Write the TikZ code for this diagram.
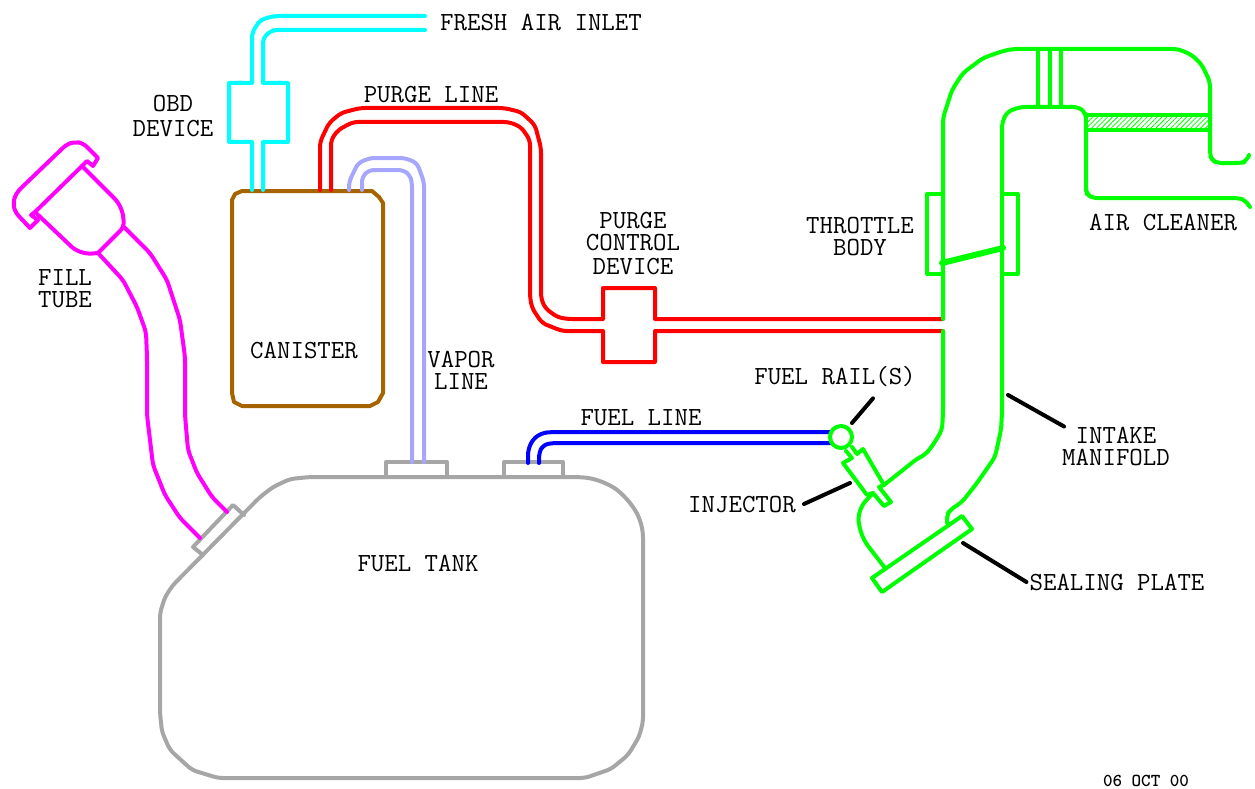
\documentclass[tikz,border=0pt]{standalone}
\usepackage{tikz}
\usetikzlibrary{calc,patterns.meta}

\definecolor{airgreen}{RGB}{0,255,0}
\definecolor{tankgray}{RGB}{166,166,166}
\definecolor{canbrown}{RGB}{165,100,0}
\definecolor{vaporblue}{RGB}{166,166,255}
\definecolor{aircyan}{RGB}{0,255,255}
\definecolor{fillpink}{RGB}{255,0,255}
\tikzset{
    pipe/.style={line width=4pt, line join=round, line cap=round},
    bentpipe/.style={pipe, rounded corners=5pt},
    leader/.style={line width=4pt, line cap=round, black},
    lbl/.style={inner sep=3pt, align=center, font=\fontsize{26.1}{22}\selectfont\ttfamily},
    datelbl/.style={inner sep=3pt, font=\fontsize{18.2}{20}\selectfont\ttfamily\bfseries}
}

\begin{document}
\begin{tikzpicture}[x=1pt,y=-1pt]
    \useasboundingbox (0,0) rectangle (1255,789);
    % fuel tank
    \draw[bentpipe, tankgray] (310,477) -- (577,477) -- (590,478) -- (603,482) -- (615,488) -- (623,495) -- (631,504) -- (637,513)
        -- (641,523) -- (643,533) -- (643,722) -- (639,737) -- (628,755) -- (611,769) -- (585,778) -- (218,778) -- (192,770)
        -- (170,750) -- (162,732) -- (160,713) -- (160,613) -- (165,597) -- (173,585) -- (260,497) -- (273,487) -- (290,479) -- cycle;
    \draw[pipe, tankgray] (386,477) -- (386,462) -- (447,462) -- (447,477);
    \draw[pipe, tankgray] (504,477) -- (504,462) -- (563,462) -- (563,477);
    \draw[pipe, tankgray] (203,555) -- (193,547) -- (233,505) -- (244,515);
    % fill tube
    \draw[pipe, fillpink] (82,166) -- (87,161) -- (93,166) -- (98,158) [rounded corners=5pt] -- (83,143) -- (75,142) -- (67,144) -- (17,192)
        -- (13,202) -- (15,212) [sharp corners] -- (30,228) -- (38,220) -- (31,215) -- (35,212) -- cycle;
    \draw[bentpipe, fillpink] (82,166) -- (118,202) -- (123,213) -- (124,227) [sharp corners] -- (98,253) [rounded corners=5pt] -- (87,254) -- (75,250) -- (35,212);
    \draw[bentpipe, fillpink] (124,227) -- (150,253) -- (167,280) -- (180,320) -- (185,357) -- (185,415) -- (188,450)
        -- (197,473) -- (212,497) -- (227,512);
    \draw[bentpipe, fillpink] (98,253) -- (123,280) -- (137,307) -- (146,332) -- (147,357) -- (147,415) -- (153,465)
        -- (165,495) -- (180,518) -- (200,538);
    % canister
    \draw[pipe, canbrown] (232,200) -- (235,194) -- (242,191) -- (372,191) -- (379,197) -- (383,203) -- (383,393)
        -- (378,402) -- (370,406) -- (242,406) -- (234,402) -- (232,393) -- cycle;
    % fresh air
    \draw[bentpipe, aircyan] (425,16) -- (274,16) -- (260,20) -- (252,33) [sharp corners] -- (252,83) -- (229,83) -- (229,142) -- (252,142) -- (252,190);
    \draw[bentpipe, aircyan] (425,30) -- (272,30) -- (263,38) [sharp corners] -- (263,83) -- (288,83) -- (288,142) -- (263,142) -- (263,190);
    % vapor line
    \draw[bentpipe, vaporblue] (349,190) -- (349,182) -- (358,163) -- (370,158) -- (405,158) -- (417,163) -- (424,182) -- (424,462);
    \draw[bentpipe, vaporblue] (362,190) -- (362,177) -- (369,170) -- (403,170) -- (410,175) -- (412,183) -- (412,462);
    % purge line
    \draw[bentpipe, red] (320,190) -- (320,142) -- (329,123) -- (341,113) -- (360,108) -- (504,108) -- (521,112) -- (535,125)
        -- (541,148) -- (541,298) -- (545,308) -- (557,317) -- (567,319) [sharp corners] -- (603,319) -- (603,288) -- (655,288)
        -- (655,319) -- (943,319);
    \draw[bentpipe, red] (331,190) -- (331,140) -- (338,130) -- (353,122) -- (509,122) -- (521,127) -- (530,140) -- (530,297)
        -- (532,308) -- (542,323) -- (562,331) [sharp corners] -- (603,331) -- (603,362) -- (655,362) -- (655,331) -- (943,331);
    % fuel line
    \draw[bentpipe, blue] (528,463) -- (528,450) -- (533,439) -- (542,433) -- (552,432) -- (830,432);
    \draw[bentpipe, blue] (539,463) -- (539,453) -- (543,445) -- (552,443) -- (830,443);
    % intake and air cleaner
    \draw[bentpipe, airgreen] (943,319) -- (943,118) -- (952,90) -- (963,73) -- (983,58) -- (1003,51) -- (1013,49) -- (1178,49)
        -- (1192,55) -- (1202,65) -- (1210,82) -- (1210,155) -- (1212,160) -- (1217,163) -- (1240,163) -- (1246,162) -- (1249,155);
    \draw[bentpipe, airgreen] (1002,413) -- (1002,123) -- (1007,112) -- (1020,107) -- (1078,107) -- (1085,112) -- (1086,118)
        -- (1086,190) -- (1087,194) -- (1092,198) -- (1238,198) -- (1245,200) -- (1250,207);
    \draw[pipe, airgreen] (1038,49) -- (1038,107);
    \draw[pipe, airgreen] (1050,49) -- (1050,107);
    \draw[pipe, airgreen] (1061,49) -- (1061,107);
    \fill[pattern={Lines[angle=45,distance=3.5pt,line width=0.8pt]}, pattern color=airgreen] (1086,115) rectangle (1210,130);
    \draw[pipe, airgreen] (1086,115) -- (1210,115);
    \draw[pipe, airgreen] (1086,130) -- (1210,130);
    \draw[pipe, airgreen] (943,194) -- (927,194) -- (927,274) -- (943,274);
    \draw[pipe, airgreen] (1002,194) -- (1018,194) -- (1018,274) -- (1002,274);
    \draw[pipe, airgreen, line width=6pt] (942,263) -- (1003,248);
    \draw[bentpipe, airgreen] (943,331) -- (943,413) -- (942,430) -- (933,445) -- (925,455) -- (918,458) [sharp corners] -- (884,485) -- (879,487)
        -- (891,502) -- (884,506) -- (873,493) [rounded corners=5pt] -- (862,505) -- (858,517) -- (860,530) -- (865,542) -- (885,568);
    \draw[bentpipe, airgreen] (1002,413) -- (1001,430) -- (995,457) -- (977,483) -- (962,502) -- (950,510) -- (947,515) -- (947,523);
    \draw[pipe, airgreen] (872,578) -- (962,516) -- (972,529) -- (882,592) -- cycle;
    % injector and rail
    \draw[pipe, airgreen] (884,485) -- (863,449) -- (857,454) -- (852,447);
    \draw[pipe, airgreen] (846,451) -- (852,458) -- (843,463) -- (867,495) -- (873,493);
    \draw[pipe, airgreen] (841,437) circle (11);
    % labels
    \node[lbl] (freshair) at (541,23) {FRESH AIR INLET};
    \node[lbl] (obd) at (173,116) {OBD\\[3pt]DEVICE};
    \node[lbl] (purgeline) at (431,95) {PURGE LINE};
    \node[lbl] (purgectl) at (633,244) {PURGE\\CONTROL\\[2pt]DEVICE};
    \node[lbl] (filltube) at (65,289) {FILL\\TUBE};
    \node[lbl] (canister) at (304,350) {CANISTER};
    \node[lbl] (vaporline) at (461,370) {VAPOR\\LINE};
    \node[lbl] (throttle) at (860,237) {THROTTLE\\BODY};
    \node[lbl] (aircleaner) at (1163,222) {AIR CLEANER};
    \node[lbl] (fuelline) at (641,418) {FUEL LINE};
    \node[lbl] (fuelrail) at (835,377) {FUEL RAIL(S)};
    \node[lbl] (intake) at (1116,446) {INTAKE\\MANIFOLD};
    \node[lbl] (injector) at (742,505) {INJECTOR};
    \node[lbl] (sealing) at (1117,582) {SEALING PLATE};
    \node[lbl] (fueltank) at (418,563) {FUEL TANK};
    \node[datelbl] (datestamp) at (1146,781) {06 OCT 00};
    % leaders
    \coordinate (railend) at (852,423); \coordinate (injend) at (850,483);
    \coordinate (intakeend) at (1008,395); \coordinate (sealend) at (963,543);
    \draw[leader] ($(fuelrail.south)+(38,8)$) -- (railend);
    \draw[leader] ($(injector.east)+(5,-1)$) -- (injend);
    \draw[leader] ($(intake.north west)+(5,3)$) -- (intakeend);
    \draw[leader] (sealing.west) -- (sealend);
\end{tikzpicture}
\end{document}
